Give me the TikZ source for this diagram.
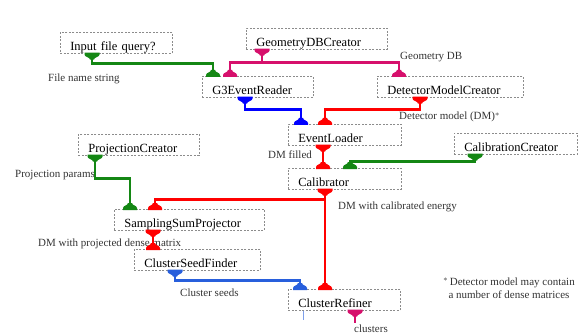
\documentclass[tikz,border=0pt]{standalone}
\usepackage{fontspec}
\setmainfont{Liberation Serif}
\usetikzlibrary{calc}

\definecolor{wgreen}{RGB}{20,135,20}
\definecolor{wmagenta}{RGB}{214,16,108}
\definecolor{wred}{RGB}{255,0,0}
\definecolor{wblue}{RGB}{0,0,255}
\definecolor{wsky}{RGB}{40,95,220}

\begin{document}
\begin{tikzpicture}[x=1pt,y=-1pt,
  box/.style={draw=black!45, dash pattern=on 2pt off 1.5pt, line width=0.6pt,
    fill=white, anchor=north west, minimum height=21pt, inner xsep=10pt,
    inner ysep=3pt, text height=15pt, text depth=0pt, text width=#1,
    align=left, font=\fontsize{12.5}{14}\selectfont},
  wire/.style={line width=2.8pt},
  lbl/.style={anchor=base west, inner sep=0pt,
    font=\fontsize{11}{13}\selectfont, text=black!80},
  % input port: bell resting on the top edge of a box
  sink/.pic={\fill (-7,1) -- (-7,-1) .. controls (-7,-3.5) and (-2,-3.5) .. (-2,-6)
     -- (2,-6) .. controls (2,-3.5) and (7,-3.5) .. (7,-1) -- (7,1) -- cycle;},
  % output port: funnel hanging from the bottom edge of a box
  source/.pic={\fill (-7.5,-1) -- (7.5,-1) -- (7.5,1) .. controls (7.5,3.5) and (2,3.5) .. (2,6)
     -- (-2,6) .. controls (-2,3.5) and (-7.5,3.5) .. (-7.5,1) -- cycle;}
]
\useasboundingbox (0,0) rectangle (586,334);

% ---------- modules ----------
\node[box=92pt]  (query) at (60,32)   {Input file query?};
\node[box=121pt] (geom)  at (246,28)  {GeometryDBCreator};
\node[box=91pt]  (g3er)  at (202,76)  {G3EventReader};
\node[box=126pt] (dmc)   at (377,76)  {DetectorModelCreator};
\node[box=93pt]  (el)    at (288,124) {EventLoader};
\node[box=103pt] (cc)    at (454,133) {CalibrationCreator};
\node[box=93pt]  (cal)   at (288,168) {Calibrator};
\node[box=101pt] (pc)    at (78,134)  {ProjectionCreator};
\node[box=130pt] (ssp)   at (114,209) {SamplingSumProjector};
\node[box=106pt] (csf)   at (134,249) {ClusterSeedFinder};
\node[box=92pt]  (cr)    at (288,289) {ClusterRefiner};

% ---------- ports ----------
\coordinate (query-o) at ([xshift=32pt]query.south west);
\coordinate (geom-o)  at ([xshift=16pt]geom.south west);
\coordinate (g3er-i1) at ([xshift=11pt]g3er.north west);
\coordinate (g3er-i2) at ([xshift=28pt]g3er.north west);
\coordinate (g3er-o)  at ([xshift=43pt]g3er.south west);
\coordinate (dmc-i)   at ([xshift=22pt]dmc.north west);
\coordinate (dmc-o)   at ([xshift=43pt]dmc.south west);
\coordinate (el-i1)   at ([xshift=13pt]el.north west);
\coordinate (el-i2)   at ([xshift=37pt]el.north west);
\coordinate (el-o)    at ([xshift=35pt]el.south west);
\coordinate (cc-o)    at ([xshift=21pt]cc.south west);
\coordinate (cal-i1)  at ([xshift=35pt]cal.north west);
\coordinate (cal-i2)  at ([xshift=62pt]cal.north west);
\coordinate (cal-o)   at ([xshift=37pt]cal.south west);
\coordinate (pc-o)    at ([xshift=17pt]pc.south west);
\coordinate (ssp-i1)  at ([xshift=16pt]ssp.north west);
\coordinate (ssp-i2)  at ([xshift=41pt]ssp.north west);
\coordinate (ssp-o)   at ([xshift=39pt]ssp.south west);
\coordinate (csf-i)   at ([xshift=19pt]csf.north west);
\coordinate (csf-o)   at ([xshift=41pt]csf.south west);
\coordinate (cr-i1)   at ([xshift=12pt]cr.north west);
\coordinate (cr-i2)   at ([xshift=37pt]cr.north west);
\coordinate (cr-o)    at ([xshift=67pt]cr.south west);
\coordinate (cr-t)    at ([xshift=15pt]cr.south west);

% ---------- labels ----------
\node[lbl] (l-file)  at (48,82)   {File name string};
\node[lbl] (l-geo)   at (400,60)  {Geometry DB};
\node[lbl] (l-dm)    at (399,120) {Detector model (DM)$^*$};
\node[lbl] (l-fill)  at (268,158) {DM filled};
\node[lbl] (l-cal)   at (338,209) {DM with calibrated energy};
\node[lbl] (l-proj)  at (15,177)  {Projection params};
\node[lbl] (l-dense) at (38,246)  {DM with projected dense matrix};
\node[lbl] (l-seed)  at (180,296) {Cluster seeds};
\node[lbl] (l-clus)  at (354,332) {clusters};
\node[anchor=north, inner sep=0pt, align=center, text=black!80,
      font=\fontsize{11}{12.5}\selectfont] (note) at (509,278)
      {$^*$\,Detector model may contain\\a number of dense matrices};

% ---------- data flow ----------
\draw[wire, wgreen]   (query-o) -- ++(0,10) -| (g3er-i1);
\draw[wire, wmagenta] (geom-o) -- ++(0,13) coordinate (geom-bus);
\draw[wire, wmagenta] (g3er-i2) |- (geom-bus) -| (dmc-i);
\draw[wire, wblue]    (g3er-o) -- ++(0,12) -| (el-i1);
\draw[wire, wred]     (dmc-o) -- ++(0,12) -| (el-i2);
\draw[wire, wred]     (el-o) -- (cal-i1);
\draw[wire, wgreen]   (cc-o) -- ++(0,7) -| (cal-i2);
\draw[wire, wred]     (cal-o) -- (cr-i2);
\draw[wire, wred]     (cal-o) ++(0,10) -| (ssp-i2);
\draw[wire, wgreen]   (pc-o) -- ++(0,23) -| (ssp-i1);
\draw[wire, wred]     (ssp-o) -- (csf-i);
\draw[wire, wsky]     (csf-o) -- ++(0,10) -| (cr-i1);
\draw[wire, wmagenta] (cr-o) -- ++(0,12) coordinate (cr-out);
\draw[line width=0.7pt, wsky!60] (cr-t) -- ++(0,9);

% ---------- port glyphs ----------
\pic[wgreen]   at (query-o) {source};
\pic[wmagenta] at (geom-o)  {source};
\pic[wblue]    at (g3er-o)  {source};
\pic[wred]     at (dmc-o)   {source};
\pic[wred]     at (el-o)    {source};
\pic[wgreen]   at (cc-o)    {source};
\pic[wred]     at (cal-o)   {source};
\pic[wgreen]   at (pc-o)    {source};
\pic[wred]     at (ssp-o)   {source};
\pic[wsky]     at (csf-o)   {source};
\pic[wmagenta] at (cr-o)    {source};
\pic[wgreen]   at (g3er-i1) {sink};
\pic[wmagenta] at (g3er-i2) {sink};
\pic[wmagenta] at (dmc-i)   {sink};
\pic[wblue]    at (el-i1)   {sink};
\pic[wred]     at (el-i2)   {sink};
\pic[wred]     at (cal-i1)  {sink};
\pic[wgreen]   at (cal-i2)  {sink};
\pic[wgreen]   at (ssp-i1)  {sink};
\pic[wred]     at (ssp-i2)  {sink};
\pic[wred]     at (csf-i)   {sink};
\pic[wsky]     at (cr-i1)   {sink};
\pic[wred]     at (cr-i2)   {sink};
\end{tikzpicture}
\end{document}
